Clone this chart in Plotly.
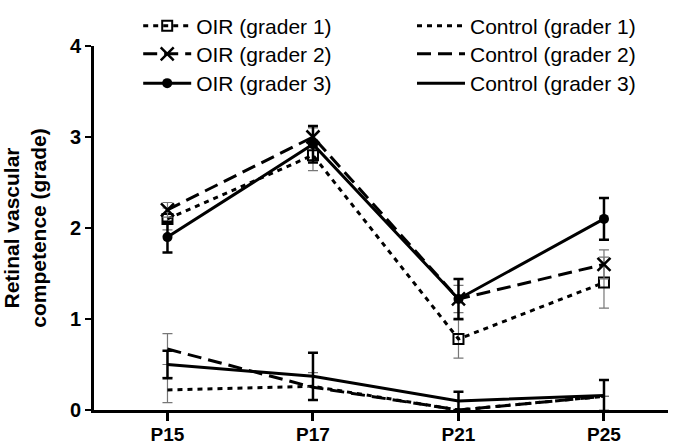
import plotly.graph_objects as go

categories = ["P15", "P17", "P21", "P25"]
xpos = [0, 1, 2, 3]

oir_g1 = [2.1, 2.8, 0.78, 1.4]
oir_g1_err = [0.12, 0.17, 0.21, 0.28]
oir_g2 = [2.2, 3.0, 1.22, 1.6]
oir_g2_err = [0.08, 0.1, 0.15, 0.16]
oir_g3 = [1.9, 2.92, 1.22, 2.1]
oir_g3_err = [0.17, 0.2, 0.22, 0.23]

ctrl_g1 = [0.22, 0.26, 0.0, 0.15]
ctrl_g1_err = [0.14, 0.15, 0.0, 0.0]
ctrl_g2 = [0.67, 0.25, 0.0, 0.15]
ctrl_g2_err = [0.17, 0.0, 0.0, 0.0]
ctrl_g3 = [0.5, 0.37, 0.1, 0.16]
ctrl_g3_err = [0.15, 0.26, 0.1, 0.17]

FONT = "Liberation Sans"
DOT = "5px,5px"
DASH = "14px,7px"

fig = go.Figure()

def add(name, y, err, dash, marker, thin, legend):
    err_style = dict(type="data", array=err, visible=True,
                     color="#777777" if thin else "black",
                     thickness=1.2 if thin else 2.5, width=5)
    mode = "lines+markers" if marker else "lines"
    fig.add_trace(go.Scatter(
        x=xpos, y=y, name=name, mode=mode,
        line=dict(color="black", width=3, dash=dash),
        marker=marker if marker else dict(size=1),
        error_y=err_style, cliponaxis=False, legend=legend,
    ))

add("OIR (grader 1)", oir_g1, oir_g1_err, DOT,
    dict(symbol="square-open", size=10, color="black", line=dict(width=2)), True, "legend")
add("OIR (grader 2)", oir_g2, oir_g2_err, DASH,
    dict(symbol="x-thin-open", size=13, color="black", line=dict(width=2.5, color="black")), True, "legend2")
add("OIR (grader 3)", oir_g3, oir_g3_err, "solid",
    dict(symbol="circle", size=10, color="black"), False, "legend3")
add("Control (grader 1)", ctrl_g1, ctrl_g1_err, DOT, None, True, "legend4")
add("Control (grader 2)", ctrl_g2, ctrl_g2_err, DASH, None, True, "legend5")
add("Control (grader 3)", ctrl_g3, ctrl_g3_err, "solid", None, False, "legend6")

legend_common = dict(font=dict(family=FONT, size=21, color="black"),
                     bgcolor="rgba(0,0,0,0)", itemwidth=48,
                     orientation="v", yanchor="top", xanchor="left")

row_y = [1.1107, 1.0338, 0.9533]
col_x = [0.077, 0.554]

fig.update_layout(
    width=673, height=446,
    margin=dict(l=94, r=5, t=46, b=36, autoexpand=False),
    plot_bgcolor="white", paper_bgcolor="white",
    font=dict(family=FONT, color="black"),
    showlegend=True,
    legend=dict(x=col_x[0], y=row_y[0], **legend_common),
    legend2=dict(x=col_x[0], y=row_y[1], **legend_common),
    legend3=dict(x=col_x[0], y=row_y[2], **legend_common),
    legend4=dict(x=col_x[1], y=row_y[0], **legend_common),
    legend5=dict(x=col_x[1], y=row_y[1], **legend_common),
    legend6=dict(x=col_x[1], y=row_y[2], **legend_common),
    xaxis=dict(
        range=[-0.505, 3.44], tickmode="array", tickvals=xpos, ticktext=categories,
        showgrid=False, zeroline=False, showline=True, linecolor="black", linewidth=3,
        ticks="outside", ticklen=8, tickwidth=3, tickcolor="black",
        ticklabelstandoff=-3,
        tickfont=dict(family=FONT, size=19, color="black", weight="bold"),
    ),
    yaxis=dict(
        range=[0, 4], tickvals=[0, 1, 2, 3, 4],
        showgrid=False, zeroline=False, showline=True, linecolor="black", linewidth=3,
        ticks="outside", ticklen=6, tickwidth=2, tickcolor="black",
        tickfont=dict(family=FONT, size=20, color="black", weight="bold"),
        title=dict(text="Retinal vascular<br>competence (grade)",
                   font=dict(family=FONT, size=21, color="black", weight="bold"),
                   standoff=22),
    ),
)

fig.write_html("out.html", config={"displayModeBar": False},
               post_script="document.body.style.margin='0';")
